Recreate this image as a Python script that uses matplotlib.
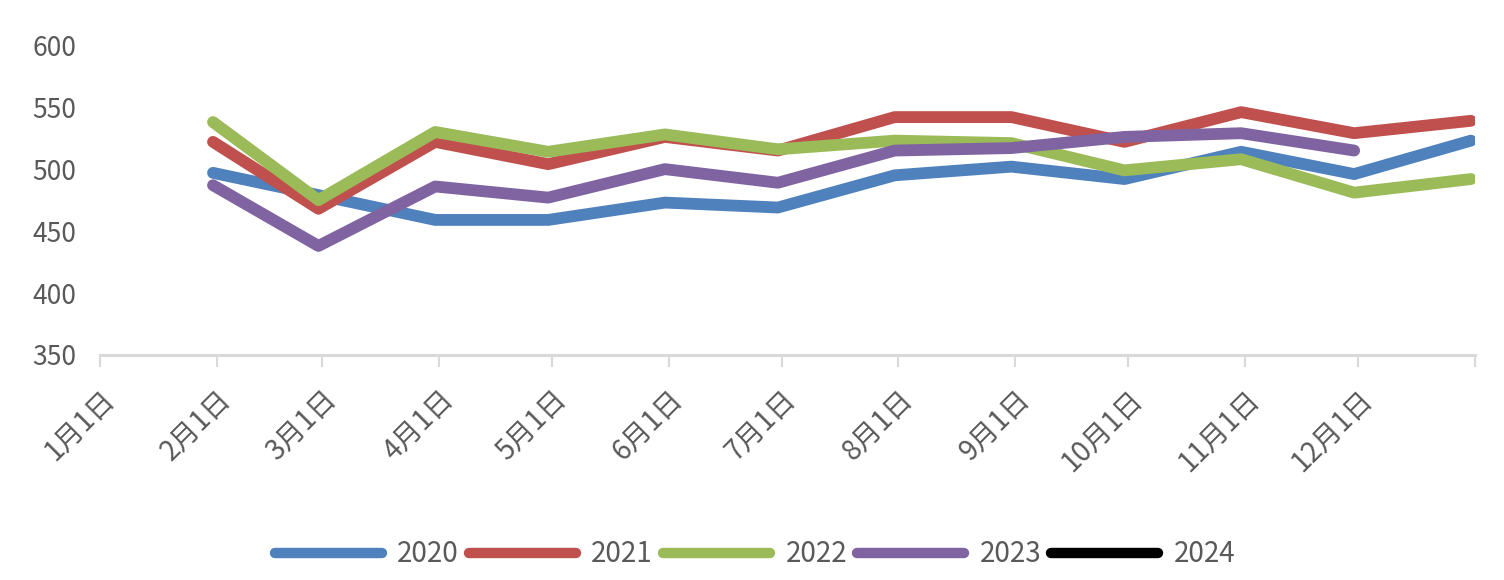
import matplotlib.pyplot as plt
import matplotlib.transforms as mtransforms
import pandas as pd

plt.rcParams['font.family'] = ['Noto Sans CJK SC', 'DejaVu Sans']

# monthly values, one point per month end (Jan..Dec)
years = ["2020", "2021", "2022", "2023", "2024"]
colors = ["#4F81BD", "#C0504D", "#9BBB59", "#8064A2", "#000000"]
v2020 = [497, 479, 459, 459, 473, 469, 495, 502, 492, 514, 496, 523]
v2021 = [522, 468, 522, 504, 526, 515, 542, 542, 522, 546, 529, 539]
v2022 = [538, 475, 530, 514, 528, 516, 523, 521, 499, 508, 481, 492]
v2023 = [487, 438, 486, 477, 500, 489, 515, 517, 526, 529, 515]
v2024 = []
series = [v2020, v2021, v2022, v2023, v2024]
tick_labels = ["%d月1日" % m for m in range(1, 13)] + [""]

dates = pd.date_range("2021-01-31", periods=12, freq="ME")

fig = plt.figure(figsize=(15.04, 5.80), dpi=100)
ax = fig.add_axes([0.0665, 0.388, 0.914, 0.534])

for name, vals, c in zip(years, series, colors):
    ax.plot(dates[:len(vals)], vals, color=c, lw=8.5, label=name,
            solid_capstyle='round', solid_joinstyle='round')

ax.set_ylim(350, 600)
ax.set_yticks(range(350, 601, 50))
ax.set_xlim(pd.Timestamp("2021-01-01"), pd.Timestamp("2022-01-01"))
ticks = pd.date_range("2021-01-01", "2022-01-01", freq="MS")
ax.set_xticks(ticks)

for s in ['top', 'right', 'left']:
    ax.spines[s].set_visible(False)
ax.spines['bottom'].set_color('#d9d9d9')
ax.spines['bottom'].set_linewidth(2.2)
ax.tick_params(axis='y', length=0, pad=17, labelsize=19, labelcolor='#595959')
ax.tick_params(axis='x', length=8.5, width=1.5, color='#d9d9d9', pad=20,
               labelsize=20, labelcolor='#595959')
ax.set_xticklabels(tick_labels, rotation=45, ha='right', va='center',
                   rotation_mode='anchor')
# nudge the slanted labels to the right, like the spreadsheet layout
shift = mtransforms.ScaledTranslation(10 / 100, 0, fig.dpi_scale_trans)
for lbl in ax.get_xticklabels():
    lbl.set_transform(lbl.get_transform() + shift)

leg = fig.legend(loc='center', bbox_to_anchor=(0.502, 0.044), ncol=5,
                 frameon=False, fontsize=20, handlelength=3.85,
                 handletextpad=0.55, columnspacing=0.37, labelcolor='#595959')
for h in leg.get_lines():
    h.set_linewidth(7.5)

fig.savefig("out.png", dpi=100)
